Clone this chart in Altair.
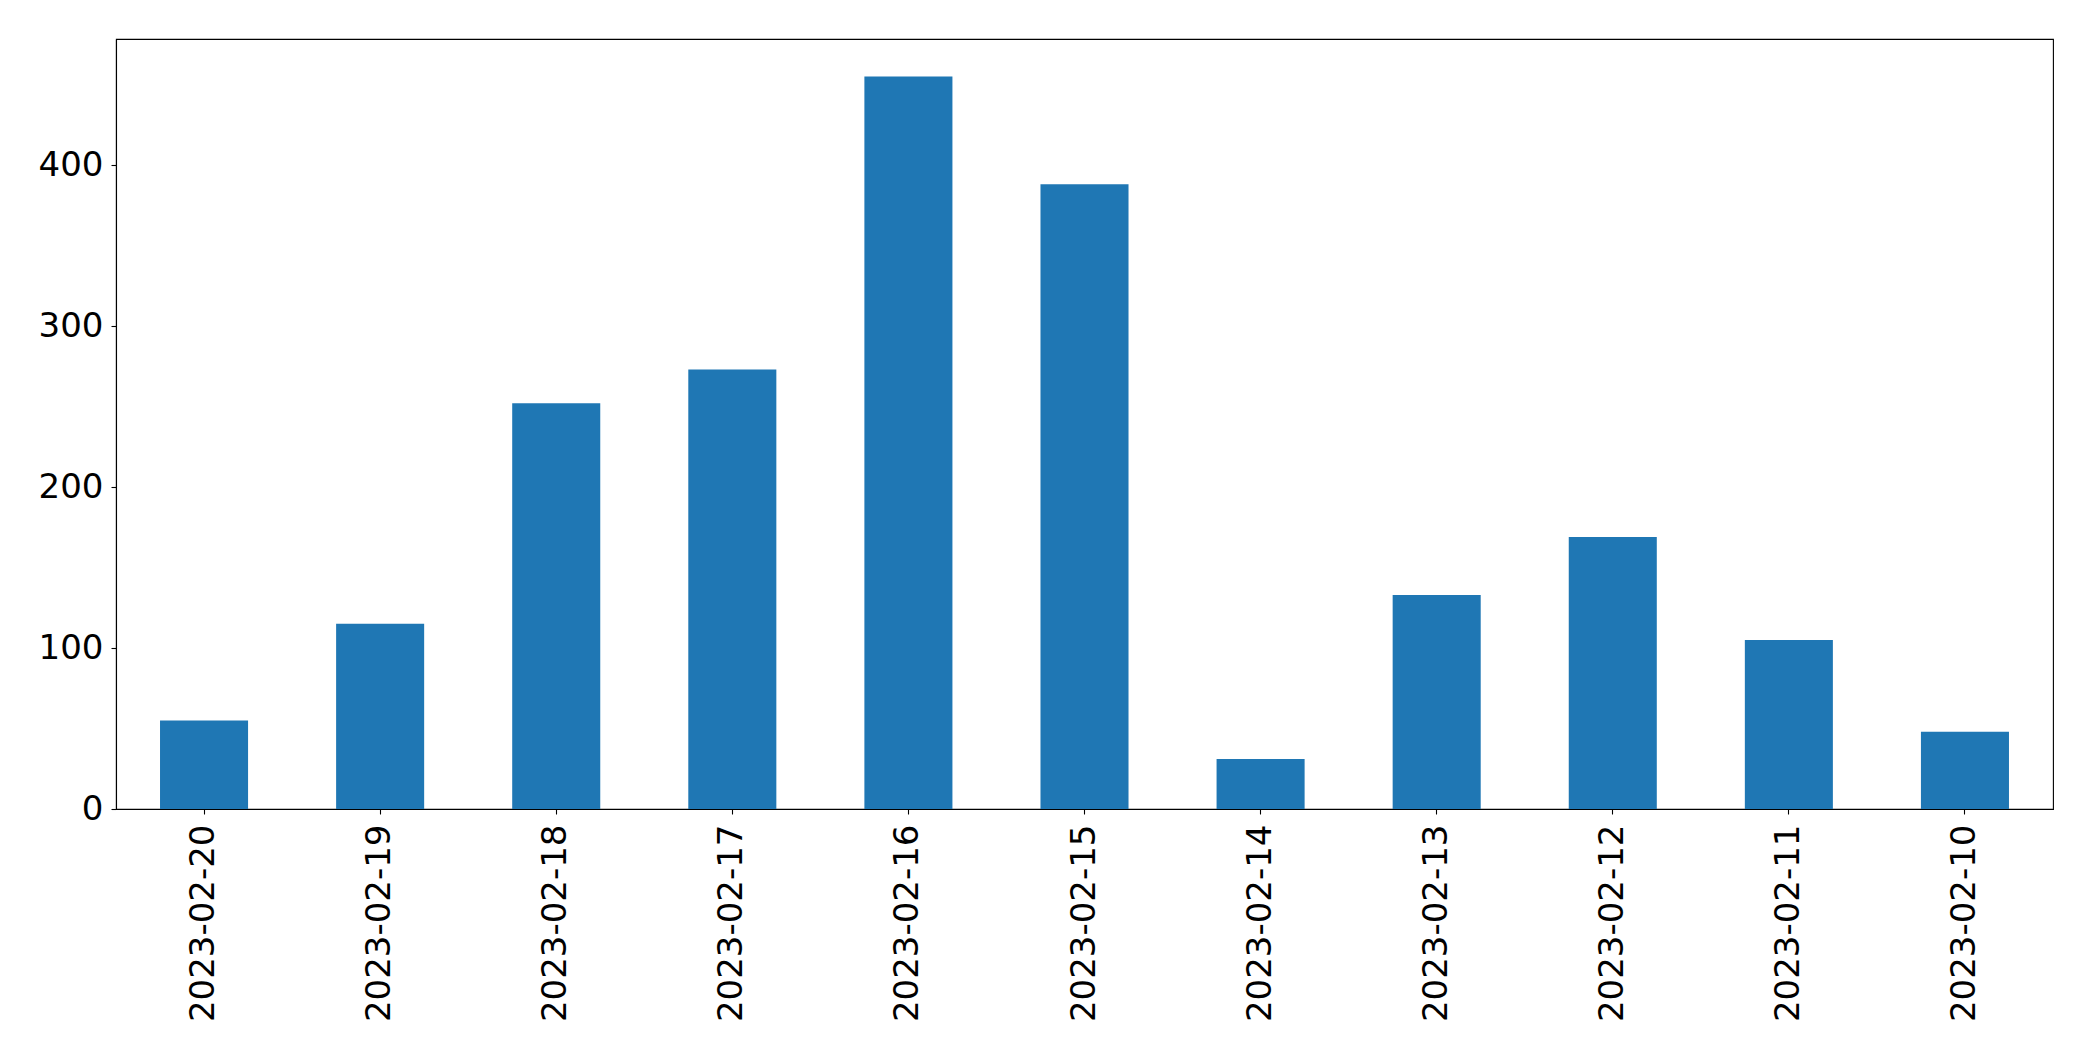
import altair as alt
import pandas as pd

dates = ["2023-02-20", "2023-02-19", "2023-02-18", "2023-02-17", "2023-02-16",
         "2023-02-15", "2023-02-14", "2023-02-13", "2023-02-12", "2023-02-11",
         "2023-02-10"]
counts = [55, 115, 252, 273, 455, 388, 31, 133, 169, 105, 48]
y_ticks = [0, 100, 200, 300, 400]

df = pd.DataFrame({"date": dates, "count": counts})

FONT = "DejaVu Sans"

chart = alt.Chart(df).mark_bar(color="#1f77b4").encode(
    x=alt.X("date:N", sort=dates, title=None,
            scale=alt.Scale(paddingInner=0.5, paddingOuter=0.25),
            axis=alt.Axis(labelAngle=270, labelFont=FONT, labelFontSize=34,
                          labelColor="black", tickColor="black", tickSize=5,
                          labelLimit=0, labelPadding=10, domainColor="black",
                          domainWidth=1.1, tickWidth=1.1)),
    y=alt.Y("count:Q", title=None,
            scale=alt.Scale(domain=[0, 478.3], nice=False, zero=True),
            axis=alt.Axis(values=y_ticks, labelFont=FONT, labelFontSize=34,
                          labelColor="black", tickColor="black", tickSize=5,
                          labelPadding=8, grid=False, domainColor="black",
                          domainWidth=1.1, tickWidth=1.1)),
).properties(
    width=1937, height=770,
    autosize=alt.AutoSizeParams(type="none"),
    padding={"left": 108, "top": 31, "right": 30, "bottom": 240},
).configure(background="white").configure_view(
    stroke="black", strokeWidth=1.1
)

chart.save("out.html", embed_options={"renderer": "svg", "actions": False})
